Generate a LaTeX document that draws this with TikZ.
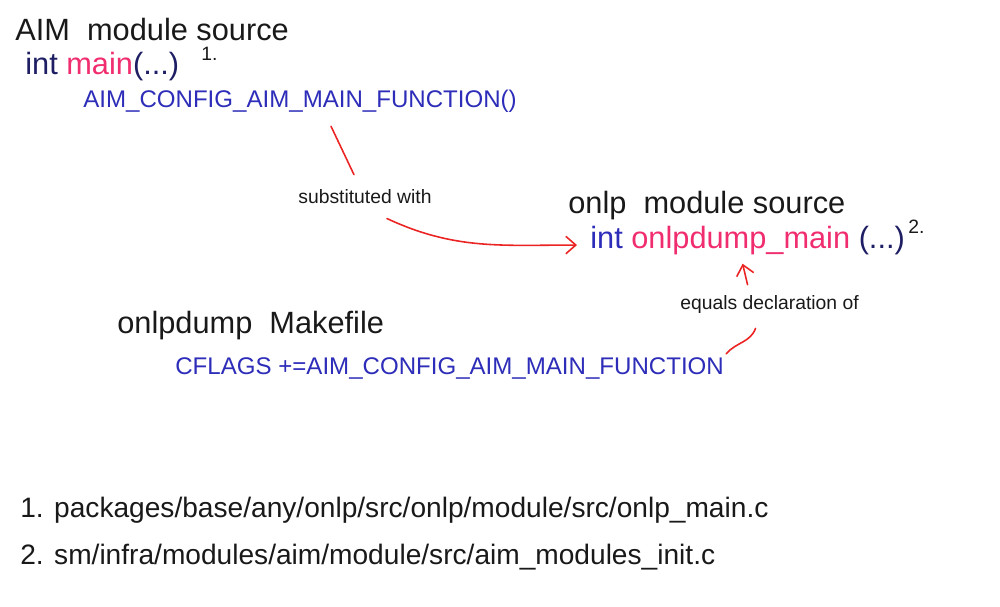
\documentclass[tikz,border=0pt]{standalone}
\usepackage{fontspec}
\setmainfont{Liberation Sans}
\usetikzlibrary{arrows.meta,calc}
\definecolor{inkblack}{RGB}{25,25,25}
\definecolor{codeblue}{RGB}{45,45,185}
\definecolor{parnavy}{RGB}{30,30,100}
\definecolor{fnpink}{RGB}{240,45,110}
\definecolor{penred}{RGB}{235,35,35}
\begin{document}
\begin{tikzpicture}[
  x=0.2mm, y=-0.2mm,
  hand/.style={anchor=base west, inner sep=0pt, text=inkblack, font=\fontsize{17.5pt}{20pt}\selectfont},
  capscode/.style={anchor=base west, inner sep=0pt, text=codeblue, font=\fontsize{13.7pt}{16pt}\selectfont},
  note/.style={anchor=base west, inner sep=0pt, text=inkblack, font=\fontsize{11pt}{13pt}\selectfont},
  supnum/.style={anchor=base west, inner sep=0pt, text=inkblack, font=\fontsize{11pt}{13pt}\selectfont},
  footline/.style={anchor=base west, inner sep=0pt, text=inkblack, font=\fontsize{16pt}{18pt}\selectfont},
  redline/.style={draw=penred, line width=0.9pt, line cap=round},
  redarrow/.style={redline, -{Straight Barb[length=2mm,width=3.5mm]}}
]
  \useasboundingbox (0,0) rectangle (1000,607);
  % AIM side
  \node[hand] (aimtitle) at (15,40) {AIM\ \ module source};
  \node[hand] (aimmain) at (25,74) {\textcolor{parnavy}{int} \textcolor{fnpink}{main}\textcolor{parnavy}{(...)}};
  \node[supnum] (aimsup) at (201,60) {1.};
  \node[capscode] (aimcfg) at (83,107) {AIM\_CONFIG\_AIM\_MAIN\_FUNCTION()};
  % onlp side
  \node[hand] (onlptitle) at (568,213) {onlp\ \ module source};
  \node[hand] (onlpmain) at (590,248) {\textcolor{codeblue}{int} \textcolor{fnpink}{onlpdump\_main} \textcolor{parnavy}{(...)}};
  \node[supnum] (onlpsup) at (908,233) {2.};
  % makefile
  \node[hand] (maketitle) at (117,333) {onlpdump\ \ Makefile};
  \node[capscode] (cflags) at (175,374) {CFLAGS +=AIM\_CONFIG\_AIM\_MAIN\_FUNCTION};
  % labels on the red lines
  \node[note] (subst) at (298,203) {substituted with};
  \node[note] (eqdecl) at (680,309) {equals declaration of};
  % red pen
  \draw[redline] ($(aimcfg.south)+(31,14)$) -- ($(subst.north)+(-11,-14)$);
  \draw[redarrow] ($(subst.south)+(22,15)$) to[out=-25,in=180] ($(onlpmain.west)+(-13,5)$);
  \draw[redarrow] ($(eqdecl.north)+(-22,-10)$) -- ($(onlpmain.south)+(-5,9)$);
  \draw[redline] ($(eqdecl.south)+(-14,15)$) to[out=-110,in=50] ($(cflags.north east)+(2,-3)$);
  % file paths
  \node[footline] (fnone) at (20,517) {1. packages/base/any/onlp/src/onlp/module/src/onlp\_main.c};
  \node[footline] (fntwo) at (20,564) {2. sm/infra/modules/aim/module/src/aim\_modules\_init.c};
\end{tikzpicture}
\end{document}
